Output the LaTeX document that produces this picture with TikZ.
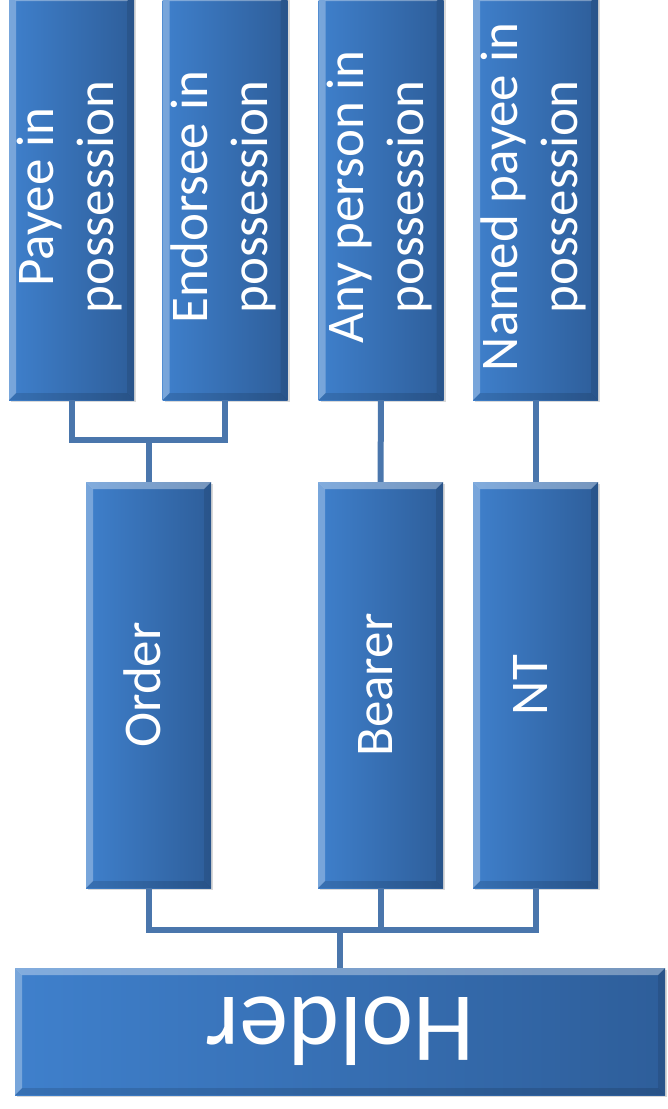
\documentclass[tikz,border=0pt]{standalone}
\usepackage{fontspec}
\setmainfont{Carlito}
\usepackage{tikz}
\usepackage{xcolor}
\usetikzlibrary{calc, shadows}

\definecolor{tileLight}{HTML}{3F80CC}
\definecolor{tileDark}{HTML}{2E5E9A}
\definecolor{linkBlue}{HTML}{4A76AC}

\newcommand{\sidelabel}[1]{\rotatebox{90}{\begin{tabular}{@{}c@{}}#1\end{tabular}}}

\tikzset{
  tile/.style={rectangle, inner sep=0pt, left color=tileLight, right color=tileDark,
    text=white, font=\fontsize{53}{60}\selectfont,
    drop shadow={shadow xshift=2pt, shadow yshift=-2pt, opacity=0.25, fill=black!60},
    path picture={
      \fill[white, opacity=0.35] (path picture bounding box.north west)
        -- (path picture bounding box.north east)
        -- ([shift={(-7pt,-7pt)}]path picture bounding box.north east)
        -- ([shift={(7pt,-7pt)}]path picture bounding box.north west) -- cycle;
      \fill[white, opacity=0.30] (path picture bounding box.north west)
        -- (path picture bounding box.south west)
        -- ([shift={(7pt,7pt)}]path picture bounding box.south west)
        -- ([shift={(7pt,-7pt)}]path picture bounding box.north west) -- cycle;
      \fill[black, opacity=0.12] (path picture bounding box.south west)
        -- (path picture bounding box.south east)
        -- ([shift={(-7pt,7pt)}]path picture bounding box.south east)
        -- ([shift={(7pt,7pt)}]path picture bounding box.south west) -- cycle;
      \fill[black, opacity=0.10] (path picture bounding box.north east)
        -- (path picture bounding box.south east)
        -- ([shift={(-7pt,7pt)}]path picture bounding box.south east)
        -- ([shift={(-7pt,-7pt)}]path picture bounding box.north east) -- cycle;
    }},
  column/.style={tile, minimum width=125pt, minimum height=406pt},
  link/.style={draw=linkBlue, line width=6pt},
}

\begin{document}
\begin{tikzpicture}[x=1pt, y=-1pt]
    \useasboundingbox (0,0) rectangle (668,1109);
    \clip (0,0) rectangle (668,1109);

    % Top row: who holds the instrument
    \node[column] (payee)    at (71.5,197)  {\sidelabel{Payee in\\possession}};
    \node[column] (endorsee) at (225,197)   {\sidelabel{Endorsee in\\possession}};
    \node[column] (anyone)   at (381,197)   {\sidelabel{Any person in\\possession}};
    \node[column] (named)    at (535.5,197) {\sidelabel{Named payee in\\possession}};

    % Middle row: kinds of instrument
    \node[column] (order)  at (148.5,685) {\sidelabel{Order}};
    \node[column] (bearer) at (380.5,685) {\sidelabel{Bearer}};
    \node[column] (nt)     at (535.5,685) {\sidelabel{NT}};

    % Bottom bar
    \node[tile, minimum width=650pt, minimum height=127pt, font=\fontsize{98}{100}\selectfont]
        (holder) at (340,1031.5) {\rotatebox{180}{Holder}};

    % Junctions
    \coordinate (jtop) at ($(order.north)+(0,-42)$);
    \coordinate (jbot) at ($(holder.north)+(0,-38)$);

    % Upper connectors
    \draw[link] (payee.south) |- (jtop) -| (endorsee.south);
    \draw[link] (jtop) -- (order.north);
    \draw[link] (anyone.south) -- (bearer.north);
    \draw[link] (named.south) -- (nt.north);

    % Lower connectors
    \draw[link] (order.south) |- (jbot) -| (nt.south);
    \draw[link] (bearer.south) -- (bearer.south |- jbot);
    \draw[link] (jbot) -- (holder.north);
\end{tikzpicture}
\end{document}
